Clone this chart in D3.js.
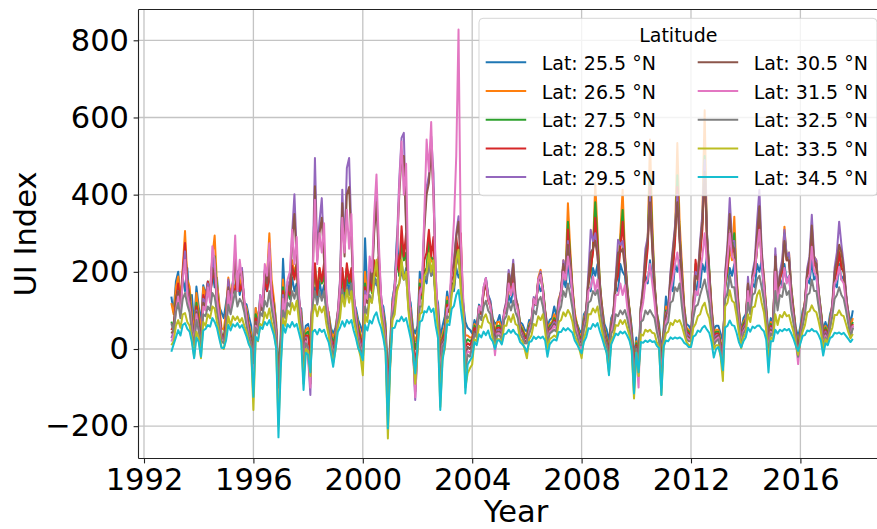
<!DOCTYPE html>
<html>
<head>
<meta charset="utf-8">
<script src="https://cdn.jsdelivr.net/npm/d3@7"></script>
<style>
  body { margin: 0; background: #fff; }
  text { font-family: "DejaVu Sans", sans-serif; fill: #000; }
</style>
</head>
<body>
<svg id="chart" width="877" height="529"></svg>
<script>
// Monthly upwelling index, Jan 1993 - Dec 2017, one array per latitude (one row per year).
const startYear = 1993;
const yearTicks = [1992, 1996, 2000, 2004, 2008, 2012, 2016];
const valueTicks = [-200, 0, 200, 400, 600, 800];
const latitudes = ["25.5", "26.5", "27.5", "28.5", "29.5", "30.5", "31.5", "32.5", "33.5", "34.5"];

const lat255 = [
  136,95,175,200,130,185,150,210,120,140,60,162,
  110,70,165,140,175,130,200,160,185,110,95,80,
  120,160,135,175,150,185,140,170,120,115,85,60,
  -20,106,70,140,110,165,150,200,140,125,70,-60,
  40,234,120,160,130,185,150,170,110,105,20,60,
  65,30,130,160,120,175,140,165,105,95,55,40,
  55,95,115,170,130,180,150,185,120,105,75,60,
  40,287,140,180,150,190,165,175,120,110,65,-80,
  20,130,165,292,190,225,180,210,140,120,55,40,
  60,200,140,190,170,230,190,200,140,120,30,60,
  85,149,110,170,150,210,185,200,120,70,55,50,
  40,75,60,115,95,150,184,140,125,80,65,70,
  88,55,90,100,140,120,160,125,110,70,65,50,
  45,75,60,115,120,170,150,160,100,60,75,80,
  110,85,130,140,180,160,230,170,150,85,65,50,
  40,90,100,160,150,210,190,220,130,110,65,50,
  20,80,95,160,150,220,200,190,125,105,55,-20,
  30,-20,110,130,190,170,230,180,160,95,65,-10,
  55,136,100,165,150,220,200,230,140,110,65,60,
  50,110,140,175,160,220,200,240,140,105,50,60,
  60,40,20,135,140,210,190,220,130,100,45,80,
  90,140,105,170,160,220,200,230,140,110,40,80,
  70,200,130,185,160,220,175,190,125,100,55,30,
  60,100,115,180,170,230,180,190,120,95,50,70,
  50,90,110,170,160,220,180,190,120,100,65,100
];
const lat265 = [
  119,90,160,188,130,210,306,180,162,95,40,145,
  95,40,160,135,170,150,240,294,170,120,55,50,
  95,185,140,170,150,200,160,190,120,105,65,40,
  -30,106,70,130,110,200,190,300,180,130,60,-80,
  20,180,110,165,140,230,200,220,120,95,0,50,
  55,15,150,190,150,210,170,200,115,95,45,30,
  45,95,120,190,140,210,180,200,115,95,65,40,
  20,200,130,190,150,220,190,210,115,95,55,-100,
  0,120,160,250,200,270,230,240,130,105,45,20,
  40,180,140,200,200,270,230,220,140,105,0,40,
  60,135,100,170,160,250,220,230,110,35,35,30,
  30,65,55,110,90,150,180,130,115,75,45,70,
  70,45,90,110,165,140,180,130,115,65,55,40,
  35,65,75,130,120,185,205,160,100,50,65,70,
  90,75,130,150,230,200,378,260,160,95,65,40,
  30,80,100,180,200,260,430,300,170,110,55,30,
  0,70,95,180,210,300,413,250,160,105,45,-40,
  20,-40,110,150,230,280,543,330,170,95,55,-30,
  45,110,100,180,220,300,534,330,220,115,55,50,
  40,120,190,210,250,350,619,280,200,115,40,50,
  50,20,0,160,200,260,230,343,190,105,35,70,
  80,170,115,190,200,260,320,240,190,105,20,70,
  60,230,140,190,210,317,230,250,160,105,45,10,
  50,90,125,200,220,280,240,230,150,100,40,60,
  40,80,115,190,210,260,220,210,140,95,55,80
];
const lat275 = [
  71,55,130,160,110,190,260,170,140,75,30,120,
  75,20,130,120,160,150,230,240,150,95,40,30,
  75,165,120,155,140,190,150,170,115,95,55,30,
  -35,90,60,120,100,190,180,260,150,110,50,-90,
  10,160,100,155,130,210,190,220,110,85,-10,40,
  45,0,140,220,140,200,170,190,105,85,35,20,
  35,85,115,200,140,210,170,190,110,90,55,30,
  10,170,120,180,145,210,190,200,110,90,45,-110,
  -10,110,150,230,190,280,230,250,130,95,35,0,
  30,170,130,200,210,290,240,230,130,95,-20,30,
  50,125,95,170,170,260,230,240,110,15,25,20,
  25,60,50,110,90,150,175,130,115,70,40,60,
  60,40,90,110,170,150,185,130,110,60,50,35,
  30,60,70,125,115,180,195,160,95,45,60,65,
  80,70,125,145,220,190,330,240,155,85,60,35,
  25,75,95,170,200,260,380,280,175,100,50,25,
  -5,65,90,170,200,280,360,240,165,100,40,-50,
  15,-50,105,140,210,280,450,300,175,90,50,-40,
  40,100,95,170,210,290,450,300,200,105,50,45,
  35,115,220,180,250,330,500,300,210,105,35,45,
  45,15,-10,160,200,280,250,300,180,100,30,65,
  75,165,110,185,200,260,330,230,180,100,15,65,
  55,240,140,185,200,300,240,240,160,100,40,0,
  45,85,120,195,210,290,230,220,150,100,35,55,
  35,75,110,185,200,250,210,200,140,90,50,70
];
const lat285 = [
  49,60,120,170,100,200,275,170,130,70,25,110,
  65,15,140,125,175,140,183,200,140,95,35,30,
  65,175,125,160,145,200,150,170,115,90,50,25,
  -40,80,60,120,100,185,150,192,160,100,50,-100,
  0,150,100,165,140,215,180,220,110,80,-20,35,
  35,-20,150,222,140,210,175,222,110,80,30,10,
  25,85,125,210,150,222,175,210,115,85,45,25,
  0,160,120,190,150,230,190,240,110,85,40,-120,
  -20,110,150,250,200,318,240,300,140,90,25,-40,
  20,160,140,230,250,309,240,290,130,90,-40,25,
  40,115,95,180,190,290,240,300,110,5,15,10,
  23,55,45,110,90,145,170,125,110,65,35,55,
  55,35,90,115,180,150,190,130,105,55,45,30,
  25,55,70,125,115,175,190,150,95,40,55,60,
  75,65,120,145,220,180,310,230,150,80,55,30,
  20,70,90,170,210,250,340,260,165,95,45,20,
  -10,60,90,170,190,260,330,230,155,95,35,-60,
  10,-60,100,140,200,260,420,280,165,85,45,-50,
  35,95,95,170,200,280,420,290,190,100,45,40,
  30,110,231,180,240,310,470,290,200,100,30,40,
  40,10,-20,170,210,300,250,260,170,95,25,60,
  70,160,105,180,200,270,340,230,170,95,10,60,
  50,245,135,180,200,290,230,230,150,95,35,-10,
  40,80,115,190,210,280,220,210,140,95,30,50,
  30,70,110,180,200,250,210,200,140,85,45,65
];
const lat295 = [
  28,45,110,150,90,190,253,160,120,65,20,100,
  55,10,130,120,170,140,240,197,130,90,30,20,
  55,180,115,165,250,160,200,210,120,85,45,20,
  -45,70,50,130,110,205,180,250,130,95,45,-120,
  -10,140,95,175,160,300,401,250,140,75,-40,30,
  -20,-119,200,495,250,330,391,250,140,75,25,0,
  15,95,180,413,260,469,495,300,150,85,35,15,
  -10,150,130,210,180,320,400,250,140,85,35,-140,
  -30,110,170,280,439,547,560,330,180,85,15,-132,
  10,150,160,330,420,450,551,456,190,85,-60,20,
  30,105,110,200,230,300,344,230,130,-20,5,0,
  10,45,45,110,100,160,183,140,120,55,25,50,
  50,30,100,125,205,170,231,140,110,50,40,20,
  20,50,75,135,120,180,200,150,90,30,50,60,
  70,60,120,155,230,200,280,220,145,75,50,25,
  15,65,100,200,309,280,300,240,160,90,40,15,
  -20,55,100,190,283,270,280,220,150,90,30,-70,
  5,-70,110,170,260,290,396,270,160,80,40,-60,
  30,90,105,200,260,320,400,290,180,95,40,35,
  25,110,200,190,280,350,490,300,190,95,25,35,
  35,5,-30,200,270,391,280,280,160,90,20,55,
  65,187,115,200,230,330,413,260,180,90,0,55,
  45,261,145,200,230,309,240,250,150,90,30,-20,
  35,75,125,210,240,348,240,230,150,90,20,45,
  25,65,120,210,250,330,270,220,150,85,40,60
];
const lat305 = [
  40,50,115,150,95,185,231,150,115,60,22,95,
  55,10,120,110,160,130,210,190,125,85,30,20,
  55,160,105,155,240,150,190,200,110,80,40,20,
  -40,70,50,120,100,195,170,230,125,90,40,-110,
  -5,130,90,165,150,280,350,230,130,70,-35,25,
  -10,-90,180,422,230,300,340,230,130,70,20,0,
  15,85,170,378,240,400,420,280,140,80,30,10,
  -5,140,120,200,170,300,380,230,130,80,30,-130,
  -25,105,160,260,400,500,500,310,170,80,10,-110,
  10,140,150,310,400,430,520,400,170,80,-50,15,
  30,105,100,200,220,290,330,220,120,-20,5,0,
  10,45,40,105,95,150,175,135,115,55,20,45,
  45,30,95,120,195,165,220,135,105,50,35,20,
  20,50,70,130,115,175,195,150,85,30,50,55,
  65,55,115,150,220,190,270,210,140,70,45,20,
  15,60,95,180,250,260,280,240,150,85,35,15,
  -20,50,95,180,250,250,260,210,140,85,25,-70,
  5,-70,105,160,240,280,380,260,150,75,35,-60,
  30,85,100,190,250,310,380,280,170,90,35,30,
  25,105,190,180,270,330,460,290,180,90,20,30,
  35,0,-30,190,260,350,270,260,150,85,15,50,
  60,170,110,190,220,300,370,250,170,85,0,50,
  40,240,140,190,210,280,230,230,140,85,25,-20,
  30,70,120,200,230,320,230,220,140,85,15,40,
  20,60,110,200,230,270,250,210,140,80,35,55
];
const lat315 = [
  19,35,100,136,85,180,231,140,110,55,15,90,
  45,0,110,100,160,120,266,230,130,80,25,15,
  45,150,95,170,294,150,231,180,130,75,35,10,
  -50,60,40,140,110,220,190,274,140,90,35,-130,
  -20,130,95,180,200,309,220,290,130,65,-50,20,
  -15,-100,190,387,220,300,250,326,140,65,15,-10,
  5,85,160,340,250,361,260,350,140,75,25,5,
  -20,140,130,240,200,350,452,280,140,75,25,-150,
  -40,100,160,250,420,538,400,480,180,75,5,-125,
  0,140,160,350,543,460,588,400,190,75,-80,10,
  20,105,110,230,330,500,828,280,140,-40,-5,-10,
  0,35,35,110,100,160,184,130,110,45,-16,40,
  40,25,90,115,170,140,170,120,100,45,30,15,
  15,45,65,130,115,180,192,150,80,20,45,50,
  60,50,110,145,200,180,240,200,135,65,40,15,
  -3,50,80,150,160,188,150,180,120,65,25,5,
  -40,40,70,140,140,170,140,165,110,65,15,-80,
  -10,-100,90,120,170,180,220,170,120,55,25,-80,
  25,70,85,150,180,220,250,200,140,75,30,25,
  20,90,150,140,200,240,300,220,150,75,13,25,
  30,-10,-40,170,230,300,240,230,140,75,10,45,
  55,150,105,180,200,260,309,220,160,75,-10,45,
  35,200,115,160,160,210,170,190,120,75,20,-39,
  25,65,105,180,190,265,200,190,130,75,5,35,
  15,55,100,170,180,213,180,170,120,75,30,61
];
const lat325 = [
  67,45,95,119,80,130,145,115,95,45,10,75,
  50,5,90,85,110,100,145,135,95,60,20,15,
  50,115,90,120,150,110,130,120,95,60,30,15,
  -37,55,40,95,85,125,110,150,105,70,25,-100,
  -10,100,80,120,110,150,130,160,95,55,-60,15,
  5,-60,115,150,115,150,125,150,95,55,10,-20,
  15,65,100,155,120,160,140,170,95,60,20,0,
  -20,110,90,140,120,170,180,140,95,60,15,-170,
  -30,85,110,160,170,200,180,190,110,60,0,-80,
  10,110,110,190,180,220,190,210,115,60,-100,5,
  20,85,80,150,160,220,240,165,100,-60,-15,-20,
  5,40,30,90,75,110,125,100,90,40,15,35,
  35,25,75,85,120,100,125,95,80,40,30,15,
  15,40,55,100,90,125,135,110,70,15,40,45,
  50,45,95,110,150,135,170,140,105,50,35,10,
  10,50,70,120,125,150,140,153,110,65,25,10,
  -30,40,50,90,85,100,90,101,80,50,10,-90,
  0,-60,70,75,100,90,101,90,80,45,20,-100,
  25,60,70,120,125,160,150,170,110,60,25,20,
  20,80,110,115,140,160,180,150,120,60,10,20,
  25,-10,-50,130,145,190,160,160,110,60,5,40,
  50,120,90,140,145,180,190,160,125,65,-20,40,
  35,150,100,140,135,170,140,150,100,65,15,-20,
  25,60,90,140,145,180,150,150,110,65,5,30,
  20,55,85,130,140,160,140,130,100,65,30,55
];
const lat335 = [
  10,20,60,75,55,90,93,70,60,28,-20,45,
  28,-24,70,60,90,80,110,105,70,40,5,0,
  30,84,60,85,75,84,70,80,60,45,15,0,
  -158,30,20,65,60,95,80,105,70,45,5,-200,
  -40,80,60,100,90,119,100,125,70,35,-90,0,
  -5,-70,90,114,85,110,95,110,65,35,-5,-35,
  -5,55,80,140,110,153,120,150,75,45,5,-20,
  -68,90,70,130,120,190,231,140,85,45,-5,-232,
  -50,75,90,150,170,231,180,200,100,45,-5,-90,
  -10,90,95,190,200,248,200,230,110,45,-150,-20,
  0,75,70,140,170,230,257,150,90,-100,-63,-50,
  -40,25,20,60,55,80,90,70,65,25,5,25,
  25,15,60,60,85,70,90,65,60,25,20,0,
  -24,25,35,65,60,85,75,90,45,0,25,30,
  35,30,70,75,95,85,101,90,70,35,20,0,
  -24,28,45,90,90,105,95,110,75,45,12,-10,
  -60,20,35,62,60,75,65,75,55,35,-5,-128,
  -10,-70,38,35,50,45,50,42,40,18,5,-119,
  12,40,45,68,62,75,70,75,60,38,18,10,
  10,55,65,85,90,110,120,95,80,42,0,10,
  10,-20,-83,110,120,152,125,120,85,42,2,30,
  40,90,70,108,110,140,152,120,95,48,-40,30,
  25,90,62,88,82,96,85,88,65,44,12,-15,
  20,45,62,95,98,113,100,95,72,44,0,25,
  15,40,55,88,88,100,88,85,65,44,28,39
];
const lat345 = [
  -7,12,30,49,35,62,67,52,45,18,-24,30,
  18,-20,48,52,62,58,80,70,55,28,3,2,
  22,62,48,64,58,67,55,62,48,32,12,0,
  -124,32,22,58,52,70,62,75,55,36,2,-229,
  -50,62,42,64,56,70,58,65,42,18,-106,-10,
  -15,-60,44,50,38,52,44,50,32,18,-12,-46,
  -2,44,55,72,58,75,66,75,48,28,2,-10,
  -29,62,48,74,66,85,95,72,55,28,-8,-206,
  -40,54,55,74,72,84,72,80,55,28,-12,-63,
  2,70,74,98,95,110,96,105,60,28,-158,-30,
  10,64,62,104,112,140,153,105,60,-115,-40,-30,
  -20,18,10,38,30,45,36,48,28,20,0,22,
  22,12,38,40,50,42,50,40,36,18,12,5,
  -7,18,20,32,26,32,28,32,22,-20,12,20,
  25,22,44,44,54,48,54,48,42,22,12,0,
  -11,18,30,54,52,65,58,67,46,28,8,-10,
  -68,12,26,40,36,45,40,45,35,22,-2,-115,
  -10,-60,18,16,22,18,23,18,20,8,2,-119,
  6,22,20,30,26,30,27,30,26,16,12,5,
  5,32,36,48,44,55,60,50,42,18,-22,0,
  5,-15,-55,56,60,74,62,60,42,18,4,20,
  30,55,45,58,54,60,61,52,46,24,-61,20,
  20,50,40,50,46,52,48,52,40,26,8,-5,
  15,34,36,48,46,52,46,46,36,22,-17,15,
  10,28,32,42,40,43,38,42,34,26,18,26
];

const seriesValues = [lat255, lat265, lat275, lat285, lat295, lat305, lat315, lat325, lat335, lat345];
const colors = ["#1f77b4", "#ff7f0e", "#2ca02c", "#d62728", "#9467bd",
                "#8c564b", "#e377c2", "#7f7f7f", "#bcbd22", "#17becf"];

const frame = { left: 138.5, right: 887, top: 9.5, bottom: 458.5 };
const svg = d3.select("#chart");

const x = d3.scaleLinear().domain([1992, 2016]).range([144, 800.4]);
const y = d3.scaleLinear().domain([0, 800]).range([349, 40.3]);

// grid
const grid = svg.append("g").attr("stroke", "#c4c4c4").attr("stroke-width", 1.3);
grid.selectAll("line.v").data(yearTicks).join("line")
  .attr("x1", d => x(d)).attr("x2", d => x(d))
  .attr("y1", frame.top).attr("y2", frame.bottom);
grid.selectAll("line.h").data(valueTicks).join("line")
  .attr("x1", frame.left).attr("x2", frame.right)
  .attr("y1", d => y(d)).attr("y2", d => y(d));

// one line per latitude, drawn south to north
const line = d3.line()
  .x((d, i) => x(startYear + i / 12))
  .y(d => y(d));

svg.append("g").selectAll("path").data(seriesValues).join("path")
  .attr("d", line)
  .attr("fill", "none")
  .attr("stroke", (d, i) => colors[i])
  .attr("stroke-width", 2)
  .attr("stroke-linejoin", "round");

// spines
const spines = svg.append("g").attr("stroke", "#222").attr("stroke-width", 1.1);
spines.append("line").attr("x1", frame.left).attr("x2", frame.left).attr("y1", frame.top).attr("y2", frame.bottom);
spines.append("line").attr("x1", frame.left).attr("x2", frame.right).attr("y1", frame.top).attr("y2", frame.top);
spines.append("line").attr("x1", frame.left).attr("x2", frame.right).attr("y1", frame.bottom).attr("y2", frame.bottom);

// axes
const fmtVal = d => d < 0 ? "\u2212" + Math.abs(d) : String(d);
const yAxis = svg.append("g").attr("transform", `translate(${frame.left},0)`)
  .call(d3.axisLeft(y).tickValues(valueTicks).tickFormat(fmtVal).tickSize(4.9).tickPadding(4.6));
const xAxis = svg.append("g").attr("transform", `translate(0,${frame.bottom})`)
  .call(d3.axisBottom(x).tickValues(yearTicks).tickFormat(d3.format("d")).tickSize(4.9).tickPadding(4.8));
[yAxis, xAxis].forEach(a => {
  a.select(".domain").remove();
  a.selectAll(".tick line").attr("stroke", "#222").attr("stroke-width", 1.1);
  a.selectAll(".tick text").attr("font-size", "30.5px").attr("fill", "#000")
    .style("font-family", "'DejaVu Sans', sans-serif");
});

// axis titles
svg.append("text").attr("x", 516).attr("y", 522).attr("text-anchor", "middle")
  .attr("font-size", "30.5px").text("Year");
svg.append("text").attr("transform", "translate(35.7,234) rotate(-90)")
  .attr("text-anchor", "middle").attr("font-size", "30.5px").text("UI Index");

// legend
const leg = svg.append("g");
leg.append("rect").attr("x", 479).attr("y", 18.3).attr("width", 398).attr("height", 177.4)
  .attr("rx", 4).attr("fill", "#fff").attr("fill-opacity", 0.8)
  .attr("stroke", "#cccccc").attr("stroke-opacity", 0.8).attr("stroke-width", 1);
leg.append("text").attr("x", 678.3).attr("y", 41.7).attr("text-anchor", "middle")
  .attr("font-size", "19px").text("Latitude");
latitudes.forEach((lat, i) => {
  const col = Math.floor(i / 5), row = i % 5;
  const lx = col === 0 ? 485.7 : 697.7;
  const cy = 62.3 + row * 28.7;
  leg.append("line").attr("x1", lx).attr("x2", lx + 40.5).attr("y1", cy).attr("y2", cy)
    .attr("stroke", colors[i]).attr("stroke-width", 2);
  leg.append("text").attr("x", lx + 56).attr("y", cy + 7.7)
    .attr("font-size", "19px").text(`Lat: ${lat} \u00B0N`);
});
</script>
</body>
</html>
